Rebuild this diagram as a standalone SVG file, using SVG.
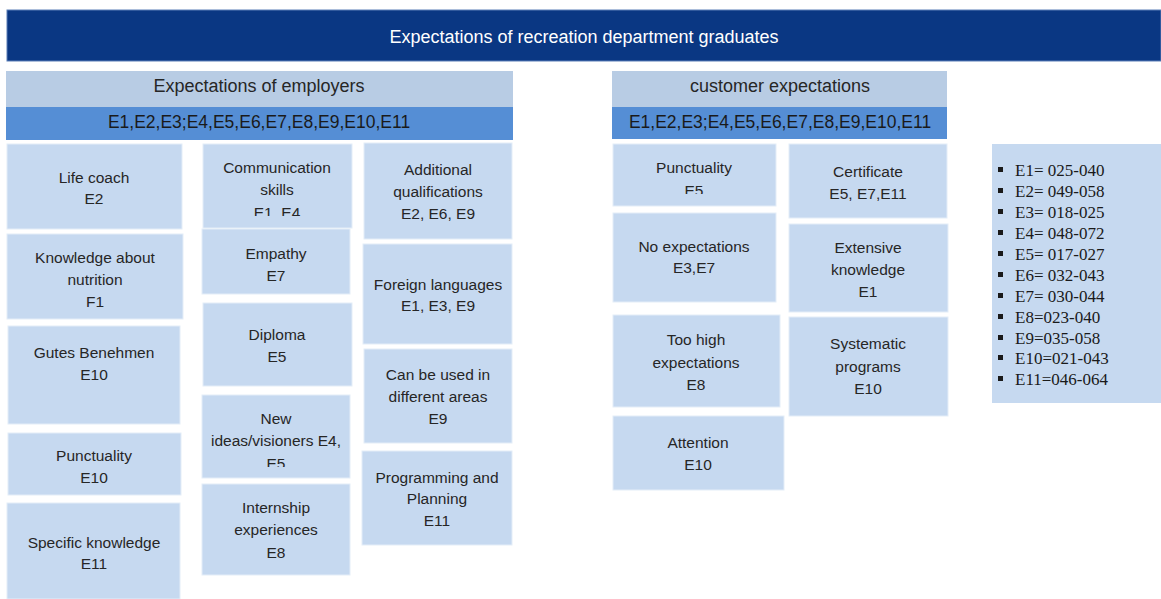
<svg xmlns="http://www.w3.org/2000/svg" width="1161" height="599" viewBox="0 0 1161 599">
  <style>
    .box { fill: #c6d9f0; stroke: #e4edf8; stroke-width: 1; }
    .hdr { fill: #b8cce4; }
    .band { fill: #558ed5; }
    .t { font-family: "Liberation Sans", Arial, sans-serif; font-size: 15.5px; fill: #262626; text-anchor: middle; }
    .h { font-family: "Liberation Sans", Arial, sans-serif; font-size: 18px; fill: #262626; text-anchor: middle; }
    .b { font-family: "Liberation Sans", Arial, sans-serif; font-size: 17.5px; fill: #1a1a1a; text-anchor: middle; }
    .lg { font-family: "Liberation Serif", "Times New Roman", serif; font-size: 17px; fill: #1a1a1a; }
  </style>
  <defs>
    <!-- overflowing last lines are cut off inside their boxes -->
    <clipPath id="clip-comm"><rect x="203" y="144" width="149" height="72"/></clipPath>
    <clipPath id="clip-ideas"><rect x="202" y="395" width="148" height="72"/></clipPath>
    <clipPath id="clip-punct"><rect x="613" y="144" width="163" height="50"/></clipPath>
  </defs>
  <rect width="1161" height="599" fill="#ffffff"/>

  <!-- Title bar -->
  <g id="title">
    <rect x="7" y="10" width="1154" height="51" fill="#0a3783" stroke="#5a7fb8" stroke-width="1"/>
    <text x="584" y="43" font-family="Liberation Sans, Arial, sans-serif" font-size="18" fill="#ffffff" text-anchor="middle">Expectations of recreation department graduates</text>
  </g>

  <!-- Employers column headers -->
  <g id="employers-header">
    <rect class="hdr" x="6" y="71" width="507" height="36"/>
    <rect class="band" x="6" y="107" width="507" height="33"/>
    <text class="h" x="259" y="92">Expectations of employers</text>
    <text class="b" x="259" y="128">E1,E2,E3;E4,E5,E6,E7,E8,E9,E10,E11</text>
  </g>

  <!-- Customer column headers -->
  <g id="customer-header">
    <rect class="hdr" x="612" y="71" width="335" height="36"/>
    <rect class="band" x="612" y="107" width="335" height="32"/>
    <text class="h" x="780" y="92">customer expectations</text>
    <text class="b" x="780" y="128">E1,E2,E3;E4,E5,E6,E7,E8,E9,E10,E11</text>
  </g>

  <!-- Employers: column 1 -->
  <g id="life-coach">
    <rect class="box" x="7" y="144" width="175" height="85"/>
    <text class="t" x="94" y="183">Life coach</text>
    <text class="t" x="94" y="204">E2</text>
  </g>
  <g id="nutrition">
    <rect class="box" x="7" y="234" width="176" height="85"/>
    <text class="t" x="95" y="263">Knowledge about</text>
    <text class="t" x="95" y="285">nutrition</text>
    <text class="t" x="95" y="307">F1</text>
  </g>
  <g id="gutes-benehmen">
    <rect class="box" x="8" y="326" width="172" height="98"/>
    <text class="t" x="94" y="358">Gutes Benehmen</text>
    <text class="t" x="94" y="380">E10</text>
  </g>
  <g id="punctuality-e10">
    <rect class="box" x="8" y="433" width="173" height="62"/>
    <text class="t" x="94" y="461">Punctuality</text>
    <text class="t" x="94" y="483">E10</text>
  </g>
  <g id="specific-knowledge">
    <rect class="box" x="7" y="503" width="173" height="96"/>
    <text class="t" x="94" y="548">Specific knowledge</text>
    <text class="t" x="94" y="569">E11</text>
  </g>

  <!-- Employers: column 2 -->
  <g id="communication">
    <rect class="box" x="203" y="144" width="149" height="84"/>
    <g clip-path="url(#clip-comm)">
      <text class="t" x="277" y="173">Communication</text>
      <text class="t" x="277" y="195">skills</text>
      <text class="t" x="277" y="218" font-size="14">E1, E4</text>
    </g>
  </g>
  <g id="empathy">
    <rect class="box" x="202" y="229" width="148" height="65"/>
    <text class="t" x="276" y="259">Empathy</text>
    <text class="t" x="276" y="281">E7</text>
  </g>
  <g id="diploma">
    <rect class="box" x="203" y="303" width="149" height="83"/>
    <text class="t" x="277" y="340">Diploma</text>
    <text class="t" x="277" y="362">E5</text>
  </g>
  <g id="new-ideas">
    <rect class="box" x="202" y="395" width="148" height="83"/>
    <g clip-path="url(#clip-ideas)">
      <text class="t" x="276" y="424">New</text>
      <text class="t" x="276" y="446">ideas/visioners E4,</text>
      <text class="t" x="276" y="469">E5</text>
    </g>
  </g>
  <g id="internship">
    <rect class="box" x="202" y="484" width="148" height="91"/>
    <text class="t" x="276" y="513">Internship</text>
    <text class="t" x="276" y="535">experiences</text>
    <text class="t" x="276" y="558">E8</text>
  </g>

  <!-- Employers: column 3 -->
  <g id="additional-qualifications">
    <rect class="box" x="364" y="143" width="148" height="96"/>
    <text class="t" x="438" y="175">Additional</text>
    <text class="t" x="438" y="197">qualifications</text>
    <text class="t" x="438" y="219">E2, E6, E9</text>
  </g>
  <g id="foreign-languages">
    <rect class="box" x="363" y="244" width="149" height="100"/>
    <text class="t" x="438" y="290">Foreign languages</text>
    <text class="t" x="438" y="311">E1, E3, E9</text>
  </g>
  <g id="different-areas">
    <rect class="box" x="364" y="349" width="148" height="94"/>
    <text class="t" x="438" y="380">Can be used in</text>
    <text class="t" x="438" y="402">different areas</text>
    <text class="t" x="438" y="424">E9</text>
  </g>
  <g id="programming">
    <rect class="box" x="362" y="451" width="150" height="94"/>
    <text class="t" x="437" y="483">Programming and</text>
    <text class="t" x="437" y="504">Planning</text>
    <text class="t" x="437" y="526">E11</text>
  </g>

  <!-- Customer: column 1 -->
  <g id="punctuality-e5">
    <rect class="box" x="613" y="144" width="163" height="62"/>
    <g clip-path="url(#clip-punct)">
      <text class="t" x="694" y="173">Punctuality</text>
      <text class="t" x="694" y="196">E5</text>
    </g>
  </g>
  <g id="no-expectations">
    <rect class="box" x="613" y="213" width="163" height="89"/>
    <text class="t" x="694" y="252">No expectations</text>
    <text class="t" x="694" y="273">E3,E7</text>
  </g>
  <g id="too-high">
    <rect class="box" x="613" y="315" width="167" height="92"/>
    <text class="t" x="696" y="345">Too high</text>
    <text class="t" x="696" y="368">expectations</text>
    <text class="t" x="696" y="390">E8</text>
  </g>
  <g id="attention">
    <rect class="box" x="613" y="416" width="171" height="74"/>
    <text class="t" x="698" y="448">Attention</text>
    <text class="t" x="698" y="470">E10</text>
  </g>

  <!-- Customer: column 2 -->
  <g id="certificate">
    <rect class="box" x="789" y="144" width="158" height="74"/>
    <text class="t" x="868" y="177">Certificate</text>
    <text class="t" x="868" y="199">E5, E7,E11</text>
  </g>
  <g id="extensive-knowledge">
    <rect class="box" x="789" y="224" width="159" height="88"/>
    <text class="t" x="868" y="253">Extensive</text>
    <text class="t" x="868" y="275">knowledge</text>
    <text class="t" x="868" y="297">E1</text>
  </g>
  <g id="systematic">
    <rect class="box" x="789" y="317" width="159" height="99"/>
    <text class="t" x="868" y="349">Systematic</text>
    <text class="t" x="868" y="372">programs</text>
    <text class="t" x="868" y="394">E10</text>
  </g>

  <!-- Code ranges legend -->
  <g id="legend">
    <rect x="992" y="144" width="169" height="259" fill="#c6d9f0"/>
    <g fill="#1a1a1a">
      <rect x="998" y="167" width="5" height="5"/>
      <rect x="998" y="188" width="5" height="5"/>
      <rect x="998" y="209" width="5" height="5"/>
      <rect x="998" y="230" width="5" height="5"/>
      <rect x="998" y="251" width="5" height="5"/>
      <rect x="998" y="272" width="5" height="5"/>
      <rect x="998" y="293" width="5" height="5"/>
      <rect x="998" y="314" width="5" height="5"/>
      <rect x="998" y="335" width="5" height="5"/>
      <rect x="998" y="355" width="5" height="5"/>
      <rect x="998" y="376" width="5" height="5"/>
    </g>
    <text class="lg" x="1015" y="176">E1= 025-040</text>
    <text class="lg" x="1015" y="197">E2= 049-058</text>
    <text class="lg" x="1015" y="218">E3= 018-025</text>
    <text class="lg" x="1015" y="239">E4= 048-072</text>
    <text class="lg" x="1015" y="260">E5= 017-027</text>
    <text class="lg" x="1015" y="281">E6= 032-043</text>
    <text class="lg" x="1015" y="302">E7= 030-044</text>
    <text class="lg" x="1015" y="323">E8=023-040</text>
    <text class="lg" x="1015" y="344">E9=035-058</text>
    <text class="lg" x="1015" y="364">E10=021-043</text>
    <text class="lg" x="1015" y="385">E11=046-064</text>
  </g>
</svg>
